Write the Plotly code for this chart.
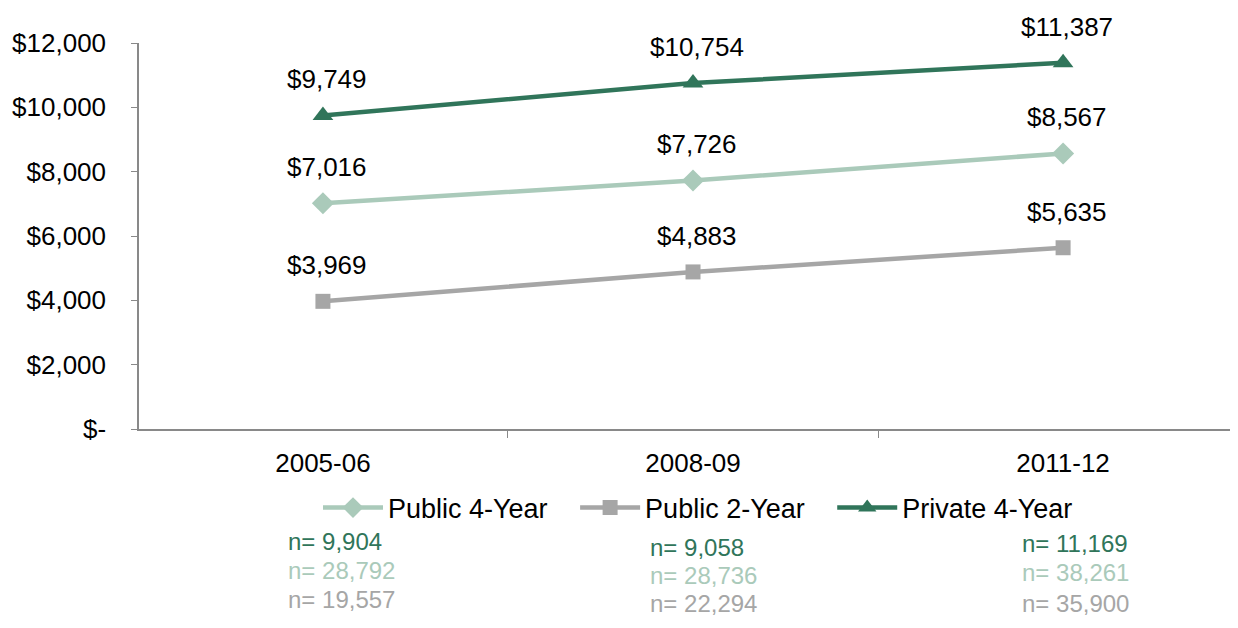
import plotly.graph_objects as go

categories = ["2005-06", "2008-09", "2011-12"]
public4 = [7016, 7726, 8567]
public2 = [3969, 4883, 5635]
private4 = [9749, 10754, 11387]
n_private4 = ["n= 9,904", "n= 9,058", "n= 11,169"]
n_public4 = ["n= 28,792", "n= 28,736", "n= 38,261"]
n_public2 = ["n= 19,557", "n= 22,294", "n= 35,900"]
y_ticks = [0, 2000, 4000, 6000, 8000, 10000, 12000]
y_ticktext = ["$-", "$2,000", "$4,000", "$6,000", "$8,000", "$10,000", "$12,000"]

C_PUB4 = "#AACABA"
C_PUB2 = "#A6A6A6"
C_PRIV4 = "#30755A"
FONT = "Liberation Sans, Arial, sans-serif"
FS = 26

# figure placed at (8, 8) in the window due to default body margin
W, H = 1222, 612
L, T = 131, 35
PLOT_BOTTOM = 421  # figure coords
B = H - PLOT_BOTTOM
PLOT_H = PLOT_BOTTOM - T
PLOT_W = W - L
PAD = "\u00a0\u00a0\u00a0"

def fmt(v):
    return "${:,}".format(v)

fig = go.Figure()
series = [
    ("Public 4-Year" + PAD, public4, C_PUB4, "diamond", 17),
    ("Public 2-Year" + PAD, public2, C_PUB2, "square", 15),
    ("Private 4-Year", private4, C_PRIV4, "triangle-up", 18),
]
for name, vals, col, sym, ms in series:
    fig.add_trace(go.Scatter(
        x=categories, y=vals, name=name, mode="lines+markers",
        line=dict(color=col, width=4.5),
        marker=dict(symbol=sym, size=ms, color=col),
        cliponaxis=False,
    ))
    for c, v in zip(categories, vals):
        fig.add_annotation(
            x=c, y=v, xref="x", yref="y", text=fmt(v), showarrow=False,
            yshift=36, xshift=4, xanchor="center", yanchor="middle",
            font=dict(size=FS, color="#000000", family=FONT),
        )

fig.update_layout(
    width=W, height=H,
    margin=dict(l=L, r=0, t=T, b=B),
    plot_bgcolor="white", paper_bgcolor="white",
    font=dict(family=FONT, size=FS, color="#000000"),
    showlegend=True,
    legend=dict(orientation="h", x=(690 - L) / PLOT_W, xanchor="center",
                y=(PLOT_BOTTOM - 500) / PLOT_H, yanchor="middle",
                font=dict(size=27), itemwidth=60, tracegroupgap=0),
)
fig.update_xaxes(
    type="category", range=[-0.497, 2.451],
    showline=True, linecolor="#898989", linewidth=1.5,
    ticks="outside", tickson="boundaries", ticklen=7, tickcolor="#898989",
    showgrid=False, tickfont=dict(size=FS), ticklabelstandoff=10,
)
fig.update_yaxes(
    range=[0, 12000], tickvals=y_ticks, ticktext=y_ticktext,
    showline=True, linecolor="#898989", linewidth=1.5,
    ticks="outside", ticklen=6, tickcolor="#898989",
    showgrid=False, zeroline=False, tickfont=dict(size=FS), ticklabelstandoff=20,
)

col_x = [278, 640, 1012]  # figure coords (left edges)
rows = [
    (n_private4, C_PRIV4, [533, 539, 535]),
    (n_public4, C_PUB4, [562, 567, 564]),
    (n_public2, C_PUB2, [591, 595, 595]),
]
for texts, col, ys in rows:
    for i, t in enumerate(texts):
        fig.add_annotation(
            text=t, xref="paper", yref="paper",
            x=(col_x[i] - L) / PLOT_W, y=(PLOT_BOTTOM - ys[i]) / PLOT_H,
            xanchor="left", yanchor="middle", showarrow=False,
            font=dict(size=24, color=col, family=FONT),
        )

fig.write_html("out.html")
